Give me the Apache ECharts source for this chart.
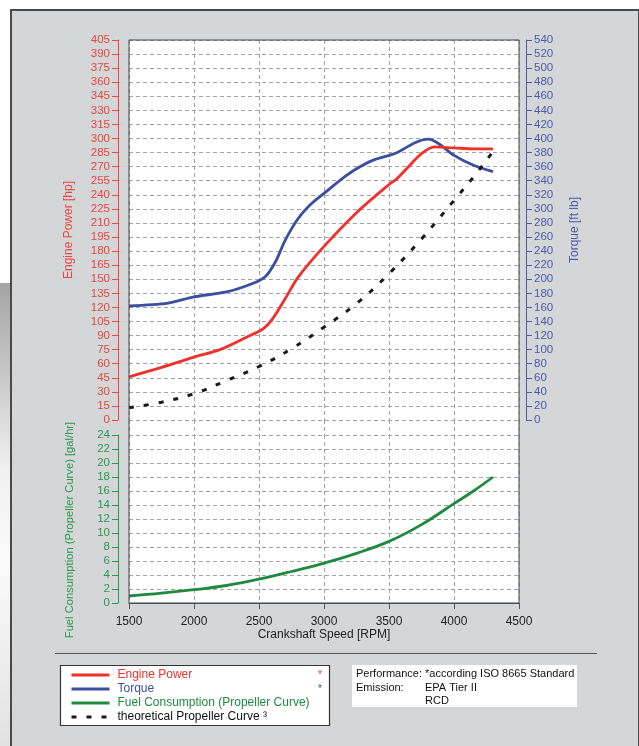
<!DOCTYPE html>
<html>
<head>
<meta charset="utf-8">
<script src="https://cdn.jsdelivr.net/npm/echarts@6/dist/echarts.min.js"></script>
<style>
  html, body { margin: 0; padding: 0; width: 639px; height: 746px; overflow: hidden; background: #ffffff; }
  #strip { position: absolute; left: 0; top: 283px; width: 11px; height: 463px;
    background: linear-gradient(180deg, #a4a4a4 0%, #c4c4c4 18%, #f0f0f0 40%, #fafafa 60%, #e2e2e2 100%); }
  #frame { position: absolute; left: 10px; top: 9px; width: 626px; height: 760px;
    background: #d5d6d8; border: 1px solid #4a4a4a; border-left-width: 2px; border-top-width: 2px; }
  #chart { position: absolute; left: 0; top: 0; width: 639px; height: 746px; }
</style>
</head>
<body>
<div id="strip"></div>
<div id="frame"></div>
<div id="chart"></div>
<script>
// ---- data ----
const rpmPower    = [1500, 1750, 2000, 2200, 2400, 2530, 2600, 2700, 2800, 3000, 3250, 3500, 3560, 3650, 3750, 3850, 4000, 4150, 4300];
const enginePower = [46,   56,   67,   75,   88,   97,   107,  129,  152,  185,  221,  251,  257,  270,  284,  291,  290,  289,  289];

const rpmTorque = [1500, 1800, 2000, 2250, 2450, 2550, 2630, 2700, 2800, 2900, 3000, 3125, 3250, 3375, 3550, 3700, 3800, 3880, 4000, 4150, 4300];
const torque    = [162,  166,  175,  182,  194,  204,  226,  255,  286,  307,  322,  341,  357,  369,  379,  394,  399,  393,  376,  362,  353];

const rpmProp   = [1500, 1750, 2000, 2250, 2500, 2750, 3000, 3250, 3500, 3750, 4000, 4150, 4300];
const propPower = [13,   19,   28,   42,   57,   76,   99,   124,  156,  193,  234,  259,  286];

const rpmFuel = [1500, 1750, 2000, 2250, 2500, 2750, 3000, 3250, 3500, 3750, 4000, 4150, 4300];
const fuel    = [1.0,  1.4,  1.9,  2.5,  3.4,  4.5,  5.7,  7.1,  8.8,  11.2, 14.2, 16.0, 18.0];

// axis tick settings
const rpmTicks    = { min: 1500, max: 4500, interval: 500 };
const powerTicks  = { min: 0, max: 405, interval: 15 };
const torqueTicks = { min: 0, max: 540, interval: 20 };
const fuelTicks   = { min: 0, max: 24, interval: 2 };

const seriesNames = ['Engine Power', 'Torque', 'Fuel Consumption (Propeller Curve)', 'theoretical Propeller Curve \u00B3'];

// ---- styling ----
const FONT = 'Liberation Sans, Arial, sans-serif';
const RED = '#f0302c', BLUE = '#3b4fa1', GREEN = '#1e8a40', BLACK = '#1a1a1a';
const RED_AX = '#e8463f', BLUE_AX = '#4a5caa', GREEN_AX = '#2a9a4c';
const gridDash = { show: true, lineStyle: { color: '#a3a3a3', width: 1, type: [4, 3] } };

function pairs(xs, ys) { return xs.map((x, i) => [x, ys[i]]); }

function yAx(opts, color, name, extra) {
  return Object.assign({
    type: 'value', min: opts.min, max: opts.max, interval: opts.interval,
    name: name, nameLocation: 'middle', nameGap: 43,
    nameTextStyle: { color: color, fontSize: 12, fontFamily: FONT },
    axisLine: { show: true, lineStyle: { color: color, width: 1 } },
    axisTick: { show: true, length: 6, lineStyle: { color: color, width: 1 } },
    axisLabel: { color: color, fontSize: 11.5, fontFamily: FONT, margin: 8 },
    splitLine: { show: false }
  }, extra);
}

const chart = echarts.init(document.getElementById('chart'), null, { renderer: 'canvas' });

const option = {
  backgroundColor: 'transparent',
  animation: false,
  grid: [
    { left: 129, right: 120, top: 40, height: 380, show: true, backgroundColor: '#ffffff', borderWidth: 0 },
    { left: 129, right: 120, top: 435, height: 168, show: true, backgroundColor: '#ffffff', borderWidth: 0 },
    { left: 129, right: 120, top: 420, height: 15, show: true, backgroundColor: '#ffffff', borderWidth: 0 }
  ],
  xAxis: [
    { type: 'value', gridIndex: 0, min: rpmTicks.min, max: rpmTicks.max, interval: rpmTicks.interval,
      axisLine: { show: false }, axisTick: { show: false }, axisLabel: { show: false }, splitLine: gridDash },
    { type: 'value', gridIndex: 1, min: rpmTicks.min, max: rpmTicks.max, interval: rpmTicks.interval,
      offset: 3,
      name: 'Crankshaft Speed [RPM]', nameLocation: 'middle', nameGap: 21,
      nameTextStyle: { color: '#222', fontSize: 12, fontFamily: FONT },
      axisLine: { show: true, lineStyle: { color: '#555', width: 1 } },
      axisTick: { show: true, length: 6, lineStyle: { color: '#555', width: 1 } },
      axisLabel: { color: '#222', fontSize: 12, fontFamily: FONT, margin: 10, formatter: v => String(v) },
      splitLine: gridDash },
    { type: 'value', gridIndex: 2, min: rpmTicks.min, max: rpmTicks.max, interval: rpmTicks.interval,
      axisLine: { show: false }, axisTick: { show: false }, axisLabel: { show: false }, splitLine: gridDash }
  ],
  yAxis: [
    yAx(powerTicks, RED_AX, 'Engine Power [hp]', { gridIndex: 0, position: 'left', offset: 11, splitLine: gridDash }),
    yAx(torqueTicks, BLUE_AX, 'Torque [ft lb]', { gridIndex: 0, position: 'right', offset: 7 }),
    yAx(fuelTicks, GREEN_AX, 'Fuel Consumption (Propeller Curve) [gal/hr]', { gridIndex: 1, position: 'left', offset: 11, splitLine: gridDash,
      nameTextStyle: { color: GREEN_AX, fontSize: 11.2, fontFamily: FONT, padding: [0, 22, 0, 0] } }),
    { type: 'value', gridIndex: 2, min: 0, max: 1, show: false, splitLine: { show: false } }
  ],
  legend: {
    orient: 'vertical', left: 65, top: 663, itemGap: 0, itemWidth: 38, itemHeight: 14,
    selectedMode: false,
    itemStyle: { opacity: 0 },
    lineStyle: { width: 3 },
    textStyle: { fontSize: 12, fontFamily: FONT, lineHeight: 14, padding: [0, 0, 0, 3] },
    data: [
      { name: seriesNames[0], textStyle: { color: RED } },
      { name: seriesNames[1], textStyle: { color: BLUE } },
      { name: seriesNames[2], textStyle: { color: GREEN } },
      { name: seriesNames[3], textStyle: { color: '#111' } }
    ]
  },
  series: [
    { name: seriesNames[0], type: 'line', xAxisIndex: 0, yAxisIndex: 0, data: pairs(rpmPower, enginePower),
      symbol: 'none', smooth: 0.3, z: 4, lineStyle: { color: RED, width: 2.8 }, itemStyle: { color: RED } },
    { name: seriesNames[1], type: 'line', xAxisIndex: 0, yAxisIndex: 1, data: pairs(rpmTorque, torque),
      symbol: 'none', smooth: 0.3, z: 3, lineStyle: { color: BLUE, width: 2.8 }, itemStyle: { color: BLUE } },
    { name: seriesNames[2], type: 'line', xAxisIndex: 1, yAxisIndex: 2, data: pairs(rpmFuel, fuel),
      symbol: 'none', smooth: 0.4, z: 3, lineStyle: { color: GREEN, width: 2.8 }, itemStyle: { color: GREEN } },
    { name: seriesNames[3], type: 'line', xAxisIndex: 0, yAxisIndex: 0, data: pairs(rpmProp, propPower),
      symbol: 'none', smooth: 0.4, z: 5, lineStyle: { color: BLACK, width: 3, type: [5, 10] }, itemStyle: { color: BLACK } }
  ],
  graphic: [
    // plot frame
    { type: 'rect', z: 100, silent: true, shape: { x: 129, y: 40, width: 390, height: 563 },
      style: { fill: 'none', stroke: '#444', lineWidth: 1 } },
    // separator line
    { type: 'line', z: 1, silent: true, shape: { x1: 55, y1: 653.5, x2: 597, y2: 653.5 },
      style: { stroke: '#555', lineWidth: 1 } },
    // legend box
    { type: 'rect', z: 0, silent: true, shape: { x: 60.5, y: 665.5, width: 269, height: 60 },
      style: { fill: '#ffffff', stroke: '#333', lineWidth: 1.2 } },
    { type: 'text', z: 10, silent: true, left: 318, top: 670, style: { text: '*', fill: RED, font: '10px ' + FONT } },
    { type: 'text', z: 10, silent: true, left: 318, top: 684, style: { text: '*', fill: BLUE, font: '10px ' + FONT } },
    // info box
    { type: 'rect', z: 0, silent: true, shape: { x: 352, y: 665, width: 225, height: 42 },
      style: { fill: '#ffffff', stroke: 'none' } },
    { type: 'text', z: 10, silent: true, left: 356, top: 668, style: { text: 'Performance: *according ISO 8665 Standard', fill: '#111', font: '11px ' + FONT } },
    { type: 'text', z: 10, silent: true, left: 356, top: 682, style: { text: 'Emission:', fill: '#111', font: '11px ' + FONT } },
    { type: 'text', z: 10, silent: true, left: 425, top: 682, style: { text: 'EPA Tier II', fill: '#111', font: '11px ' + FONT } },
    { type: 'text', z: 10, silent: true, left: 425, top: 695, style: { text: 'RCD', fill: '#111', font: '11px ' + FONT } }
  ]
};
chart.setOption(option);
</script>
</body>
</html>
